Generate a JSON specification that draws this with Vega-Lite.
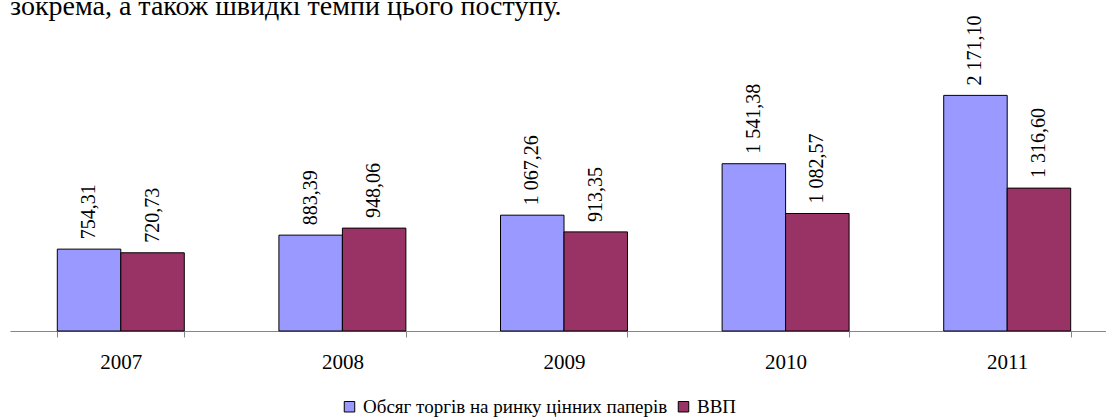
{
  "$schema": "https://vega.github.io/schema/vega-lite/v6.json",
  "width": 1108,
  "height": 331,
  "autosize": "none",
  "padding": {"left": 10, "top": 0, "right": 0, "bottom": 86},
  "background": "white",
  "title": {
    "text": "зокрема, а також швидкі темпи цього поступу.",
    "anchor": "start",
    "frame": "group",
    "offset": 0,
    "dy": 43,
    "baseline": "alphabetic",
    "font": "Liberation Serif",
    "fontSize": 28,
    "fontWeight": "normal",
    "color": "black"
  },
  "config": {
    "view": {"stroke": null},
    "locale": {"number": {"decimal": ",", "thousands": " ", "grouping": [3], "currency": ["", ""]}},
    "font": "Liberation Serif"
  },
  "data": {
    "values": [
      {"year": "2007", "series": "Обсяг торгів на ринку цінних паперів", "value": 754.31},
      {"year": "2007", "series": "ВВП", "value": 720.73},
      {"year": "2008", "series": "Обсяг торгів на ринку цінних паперів", "value": 883.39},
      {"year": "2008", "series": "ВВП", "value": 948.06},
      {"year": "2009", "series": "Обсяг торгів на ринку цінних паперів", "value": 1067.26},
      {"year": "2009", "series": "ВВП", "value": 913.35},
      {"year": "2010", "series": "Обсяг торгів на ринку цінних паперів", "value": 1541.38},
      {"year": "2010", "series": "ВВП", "value": 1082.57},
      {"year": "2011", "series": "Обсяг торгів на ринку цінних паперів", "value": 2171.10},
      {"year": "2011", "series": "ВВП", "value": 1316.60}
    ]
  },
  "encoding": {
    "x": {
      "field": "year",
      "type": "nominal",
      "title": null,
      "scale": {"paddingInner": 0.427, "paddingOuter": 0.2135},
      "axis": {
        "labelAngle": 0,
        "labelFont": "Liberation Serif",
        "labelFontSize": 21,
        "labelColor": "black",
        "labelPadding": 14,
        "domainColor": "#868686",
        "tickColor": "#868686",
        "tickBand": "extent",
        "tickSize": 6,
        "grid": false
      }
    },
    "xOffset": {
      "field": "series",
      "type": "nominal",
      "scale": {"domain": ["Обсяг торгів на ринку цінних паперів", "ВВП"], "paddingInner": 0, "paddingOuter": 0}
    },
    "y": {
      "field": "value",
      "type": "quantitative",
      "scale": {"domain": [0, 3050], "nice": false},
      "axis": null
    }
  },
  "layer": [
    {
      "mark": {"type": "bar", "stroke": "black", "strokeWidth": 1},
      "encoding": {
        "color": {
          "field": "series",
          "type": "nominal",
          "scale": {"domain": ["Обсяг торгів на ринку цінних паперів", "ВВП"], "range": ["#9999FF", "#993366"]},
          "legend": {
            "title": null,
            "orient": "none",
            "legendX": 330,
            "legendY": 397,
            "direction": "horizontal",
            "symbolType": "square",
            "symbolSize": 110,
            "symbolStrokeColor": "black",
            "symbolStrokeWidth": 1,
            "symbolOpacity": 1,
            "labelFont": "Liberation Serif",
            "labelFontSize": 19,
            "labelColor": "black",
            "labelLimit": 500,
            "columnPadding": 6
          }
        }
      }
    },
    {
      "mark": {"type": "text", "angle": 270, "align": "left", "baseline": "middle", "dx": 10, "font": "Liberation Serif", "fontSize": 20, "color": "black"},
      "encoding": {
        "text": {"field": "value", "type": "quantitative", "format": ",.2f"}
      }
    }
  ]
}
